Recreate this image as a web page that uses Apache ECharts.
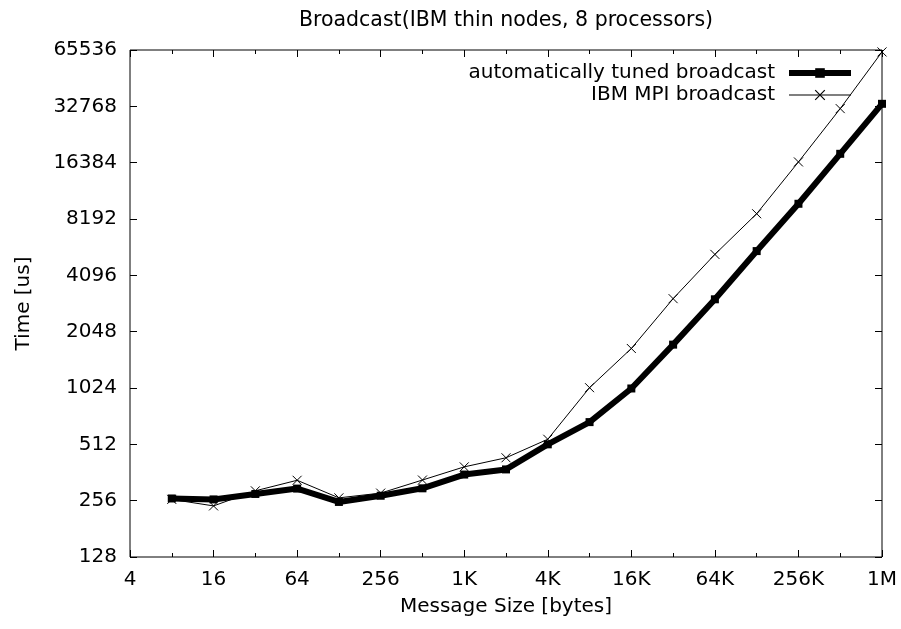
<!DOCTYPE html>
<html><head><meta charset="utf-8">
<script src="https://cdn.jsdelivr.net/npm/echarts@6/dist/echarts.min.js"></script>
<style>html,body{margin:0;padding:0;background:#fff}#c{width:901px;height:629px}</style>
</head><body><div id="c"></div>
<script>
const messageSizes = [8, 16, 32, 64, 128, 256, 512, 1024, 2048, 4096, 8192, 16384, 32768, 65536, 131072, 262144, 524288, 1048576];
const tunedTimes = [263, 260, 278, 297, 252, 272, 298, 353, 376, 512, 673, 1018, 1746, 3050, 5520, 9880, 18270, 33800];
const ibmTimes = [260, 240, 289, 329, 265, 281, 330, 388, 434, 545, 1028, 1665, 3074, 5300, 8740, 16530, 31860, 64000];
const xTickValues = [4, 16, 64, 256, 1024, 4096, 16384, 65536, 262144, 1048576];
const xTickLabels = ['4', '16', '64', '256', '1K', '4K', '16K', '64K', '256K', '1M'];
const yTickValues = [128, 256, 512, 1024, 2048, 4096, 8192, 16384, 32768, 65536];
const yTickLabels = ['128', '256', '512', '1024', '2048', '4096', '8192', '16384', '32768', '65536'];
const seriesNames = ['automatically tuned broadcast', 'IBM MPI broadcast'];
const titleText = 'Broadcast(IBM thin nodes, 8 processors)';
const xName = 'Message Size [bytes]';
const yName = 'Time [us]';

const FONT = 'DejaVu Sans';
const chart = echarts.init(document.getElementById('c'), null, {renderer: 'canvas'});

function lookup(vals, labels, v) {
  for (let i = 0; i < vals.length; i++) {
    if (Math.abs(vals[i] - v) / vals[i] < 1e-6) return labels[i];
  }
  return '';
}

const xMin = 4, xMax = 1048576, yMin = 128, yMax = 65536;
const baseX = {
  type: 'log', logBase: 2, min: xMin, max: xMax, gridIndex: 0,
  axisLine: {show: false}, splitLine: {show: false}, minorTick: {show: false}
};
const baseY = {
  type: 'log', logBase: 2, min: yMin, max: yMax, gridIndex: 0,
  axisLine: {show: false}, splitLine: {show: false}
};
const crossPath = 'path://M0,0L10,10M10,0L0,10';

chart.setOption({
  animation: false,
  backgroundColor: '#fff',
  title: {
    text: titleText, left: 506, top: 10, padding: 0, textAlign: 'center',
    textStyle: {fontFamily: FONT, fontSize: 20.5, fontWeight: 'normal', color: '#000'}
  },
  grid: {left: 130, right: 19, top: 50, bottom: 72, show: true, borderColor: '#000', borderWidth: 1, containLabel: false},
  legend: {
    orient: 'vertical', right: 42, top: 57, align: 'right',
    itemWidth: 62, itemHeight: 12, itemGap: 0,
    data: [
      {name: seriesNames[0], lineStyle: {width: 6, color: '#000'}, itemStyle: {color: '#000'}},
      {name: seriesNames[1], lineStyle: {width: 1.2, color: '#000'}, itemStyle: {color: 'rgba(0,0,0,0)', borderColor: '#000', borderWidth: 1.2}}
    ],
    textStyle: {fontFamily: FONT, fontSize: 20, color: '#000', lineHeight: 22, padding: [0, 9, 0, 0]},
    selectedMode: false
  },
  xAxis: [
    Object.assign({}, baseX, {
      position: 'bottom', interval: 1,
      axisTick: {show: true, inside: true, length: 4, lineStyle: {color: '#000'}},
      axisLabel: {show: true, margin: 13, fontFamily: FONT, fontSize: 20, color: '#000',
        formatter: v => lookup(xTickValues, xTickLabels, v)},
      name: xName, nameLocation: 'middle', nameGap: 40,
      nameTextStyle: {fontFamily: FONT, fontSize: 20, color: '#000'}
    }),
    Object.assign({}, baseX, {
      position: 'bottom', interval: 2,
      axisTick: {show: true, inside: true, length: 7, lineStyle: {color: '#000'}},
      axisLabel: {show: false}
    }),
    Object.assign({}, baseX, {
      position: 'top', interval: 1,
      axisTick: {show: true, inside: true, length: 4, lineStyle: {color: '#000'}},
      axisLabel: {show: false}
    }),
    Object.assign({}, baseX, {
      position: 'top', interval: 2,
      axisTick: {show: true, inside: true, length: 7, lineStyle: {color: '#000'}},
      axisLabel: {show: false}
    })
  ],
  yAxis: [
    Object.assign({}, baseY, {
      position: 'left', interval: 1,
      axisTick: {show: true, inside: true, length: 7, lineStyle: {color: '#000'}},
      axisLabel: {show: true, margin: 13, fontFamily: FONT, fontSize: 20, color: '#000',
        formatter: v => lookup(yTickValues, yTickLabels, v)},
      name: yName, nameLocation: 'middle', nameGap: 96, nameRotate: 90,
      nameTextStyle: {fontFamily: FONT, fontSize: 20, color: '#000'}
    }),
    Object.assign({}, baseY, {
      position: 'right', interval: 1,
      axisTick: {show: true, inside: true, length: 7, lineStyle: {color: '#000'}},
      axisLabel: {show: false}
    })
  ],
  series: [
    {
      name: seriesNames[0], type: 'line', xAxisIndex: 0, yAxisIndex: 0,
      data: messageSizes.map((s, i) => [s, tunedTimes[i]]),
      symbol: 'rect', symbolSize: 8, showSymbol: true,
      lineStyle: {color: '#000', width: 6},
      itemStyle: {color: '#000'},
      z: 2
    },
    {
      name: seriesNames[1], type: 'line', xAxisIndex: 0, yAxisIndex: 0,
      data: messageSizes.map((s, i) => [s, ibmTimes[i]]),
      symbol: crossPath, symbolSize: 9, showSymbol: true,
      lineStyle: {color: '#000', width: 1},
      itemStyle: {color: 'rgba(0,0,0,0)', borderColor: '#000', borderWidth: 1},
      z: 3
    }
  ]
});
</script>
</body></html>
